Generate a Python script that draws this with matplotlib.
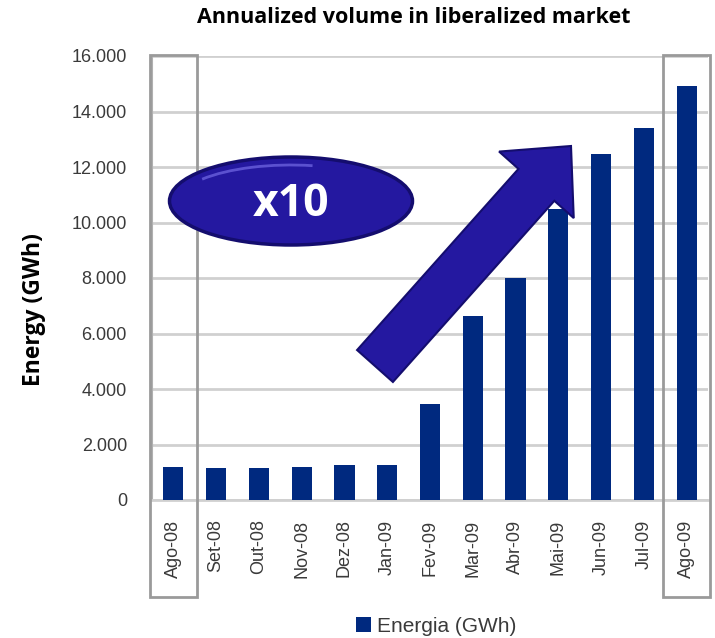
import matplotlib
matplotlib.use("Agg")
import matplotlib.pyplot as plt
from matplotlib.patches import Rectangle, Ellipse, FancyArrow, Arc
import numpy as np

# data
meses = ["Ago-08", "Set-08", "Out-08", "Nov-08", "Dez-08", "Jan-09", "Fev-09",
         "Mar-09", "Abr-09", "Mai-09", "Jun-09", "Jul-09", "Ago-09"]
energia = [1200, 1150, 1150, 1200, 1250, 1250, 3450, 6630, 8000, 10480, 12470, 13400, 14920]
y_ticks = [0, 2000, 4000, 6000, 8000, 10000, 12000, 14000, 16000]
y_labels = ["0", "2.000", "4.000", "6.000", "8.000", "10.000", "12.000", "14.000", "16.000"]
destaque = [0, 12]  # meses com caixa

cor_barra = "#00297f"
cor_forma = "#2418a0"
cor_texto = "#3a3a3a"
fonte_eixo = ["Liberation Sans", "DejaVu Sans"]

fig = plt.figure(figsize=(7.15, 6.38), dpi=100)
ax = fig.add_axes([152/715, 1 - 500/638, 556/715, 444/638])

x = np.arange(len(meses))
ax.bar(x, energia, width=0.47, color=cor_barra, label="Energia (GWh)", zorder=3)

ax.set_xlim(-0.5, 12.5)
ax.set_ylim(0, 16000)
ax.set_yticks(y_ticks)
ax.set_yticklabels(y_labels, family=fonte_eixo, fontsize=13, color=cor_texto)
ax.set_xticks(x)
ax.set_xticklabels(meses, rotation=90, family=fonte_eixo, fontsize=13, color=cor_texto,
                   va="top", ha="center")
ax.tick_params(axis="both", length=0, pad=14)
ax.tick_params(axis="y", pad=18)
ax.grid(axis="y", color="#d0d0d0", lw=2, zorder=0)
for s in ["top", "right"]:
    ax.spines[s].set_visible(False)
ax.spines["left"].set_color("#b0b0b0")
ax.spines["left"].set_linewidth(1.5)
ax.spines["bottom"].set_color("#d0d0d0")
ax.spines["bottom"].set_linewidth(2)

# caixas em volta do primeiro e ultimo mes
trans = ax.get_xaxis_transform()
for i in destaque:
    ax.add_patch(Rectangle((i - 0.55, -0.218), 1.1, 1.22, transform=trans, fill=False,
                           ec="#9a9a9a", lw=2, clip_on=False, zorder=4))

ax.set_ylabel("Energy (GWh)", family="Open Sans", fontweight="bold", fontsize=16.5)
ax.yaxis.set_label_coords(-0.19, 0.43)
fig.text(0.578, 0.972, "Annualized volume in liberalized market", ha="center", va="center",
         family="Open Sans", fontweight="bold", fontsize=15.5)

fig.legend(loc="center", bbox_to_anchor=(0.61, 0.018), frameon=False, handlelength=0.7,
           handleheight=0.7, handletextpad=0.3, prop={"family": fonte_eixo, "size": 15},
           labelcolor=cor_texto)

# camada para elipse e seta (coordenadas em pixels)
ov = fig.add_axes([0, 0, 1, 1], facecolor="none")
ov.set_xlim(0, 715)
ov.set_ylim(638, 0)
ov.axis("off")
ov.add_patch(Ellipse((291, 201), 243, 88, fc=cor_forma, ec="#140d6e", lw=2.5, zorder=5))
ov.add_patch(Arc((291, 203), 228, 76, theta1=195, theta2=300, ec="#6a60dd", lw=2,
                 alpha=0.8, zorder=6))
ov.text(291, 205, "x10", ha="center", va="center", color="white", family="Open Sans",
        fontweight="bold", fontsize=32, zorder=7)
cx, cy = 375, 366
tx, ty = 571, 146
ov.add_patch(FancyArrow(cx, cy, tx - cx, ty - cy, width=48, head_width=100, head_length=52,
                        length_includes_head=True, fc=cor_forma, ec="#140d6e", lw=1.5, zorder=5))

fig.savefig("out.png", dpi=100)
